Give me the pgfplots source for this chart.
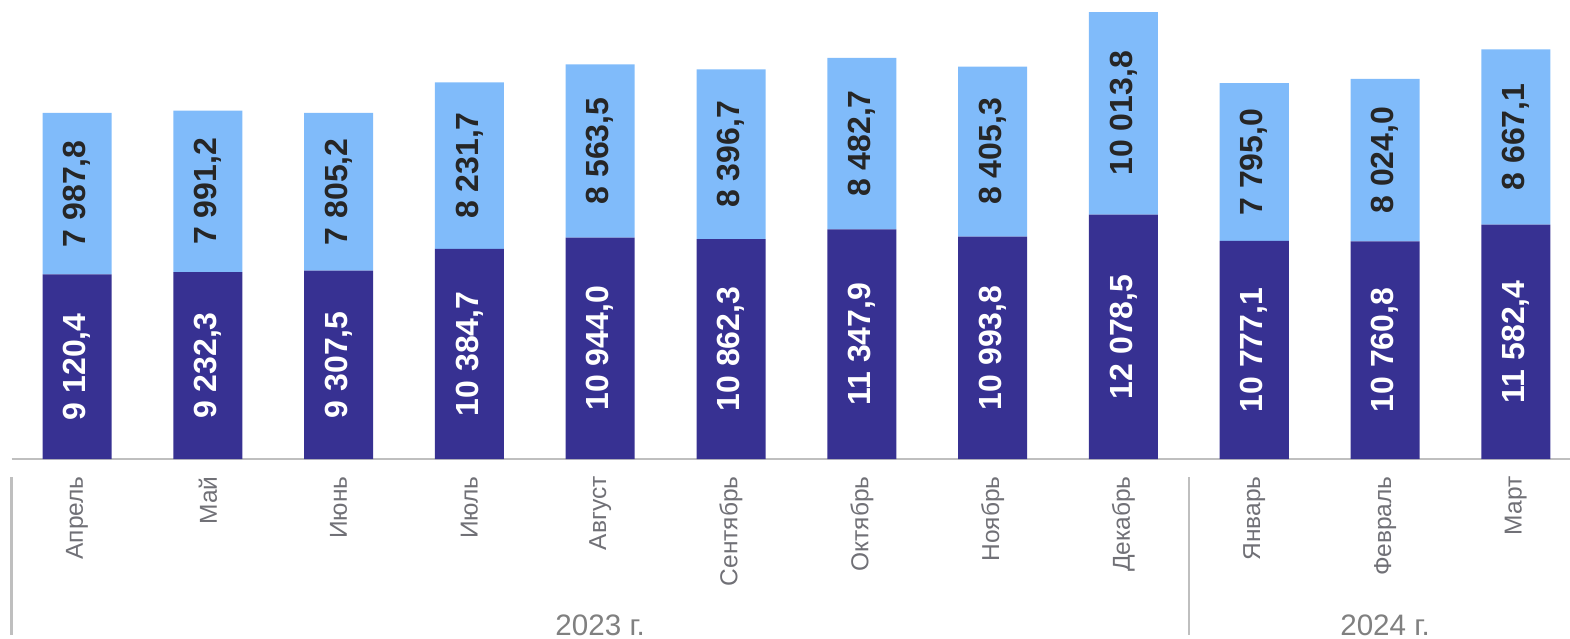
\documentclass[border=0pt]{standalone}
\usepackage{pgfplots}
\pgfplotsset{compat=1.18}
\usepackage{pgfplotstable}
\usepackage{fontspec}
\setmainfont{Liberation Sans}
\definecolor{darkbar}{RGB}{55,49,146}
\definecolor{lightbar}{RGB}{128,187,250}
\definecolor{labelgray}{RGB}{112,112,118}
\definecolor{yeargray}{RGB}{128,128,128}
\definecolor{valtext}{RGB}{38,38,38}
\definecolor{axisgray}{RGB}{191,191,191}
\pgfplotstableread{
x d l
0 9120.4 7987.8
1 9232.3 7991.2
2 9307.5 7805.2
3 10384.7 8231.7
4 10944.0 8563.5
5 10862.3 8396.7
6 11347.9 8482.7
7 10993.8 8405.3
8 12078.5 10013.8
9 10777.1 7795.0
10 10760.8 8024.0
11 11582.4 8667.1
}\data
\begin{document}
\begin{tikzpicture}
\pgfplotsset{common/.style={scale only axis, width=779.2pt, height=229.5pt,
  xmin=-0.5, xmax=11.414, ymin=0, ymax=22686, clip=false, enlargelimits=false}}
\begin{axis}[common, ybar stacked, bar width=34.5pt,
  axis x line*=bottom, axis y line=none,
  axis line style={draw=axisgray, line width=1pt},
  xtick={0,...,11},
  xticklabels={Апрель,Май,Июнь,Июль,Август,Сентябрь,Октябрь,Ноябрь,Декабрь,Январь,Февраль,Март},
  major tick length=0pt, ytick=\empty,
  xticklabel style={rotate=90, anchor=east, inner sep=0pt,
    font=\fontsize{12.25}{14}\selectfont, text=labelgray},
  xticklabel shift=8.5pt]
\addplot[fill=darkbar, draw=none] table[x=x,y=d]{\data};
\addplot[fill=lightbar, draw=none] table[x=x,y=l]{\data};
\draw[axisgray, line width=1.2pt] ([yshift=-9pt]axis cs:-0.5,0) -- ([yshift=-88pt]axis cs:-0.5,0);
\draw[axisgray, line width=1.2pt] ([yshift=-9pt]axis cs:8.5,0) -- ([yshift=-88pt]axis cs:8.5,0);
\node[anchor=base, font=\fontsize{14.8}{17}\selectfont, text=yeargray] at ([yshift=-88pt]axis cs:4,0) {2023 г.};
\node[anchor=base, font=\fontsize{14.8}{17}\selectfont, text=yeargray] at ([yshift=-88pt]axis cs:10,0) {2024 г.};
\end{axis}
\begin{axis}[common, hide axis,
  nodes near coords, point meta=explicit,
  every node near coord/.append style={rotate=90, anchor=center,
    font=\fontsize{16}{19}\selectfont\bfseries},
  /pgf/number format/.cd, fixed, fixed zerofill, precision=1, use comma,
  1000 sep={\ }, assume math mode=true]
\addplot[draw=none, no markers, every node near coord/.append style={text=white}]
  table[x=x, y expr=\thisrow{d}/2, meta=d]{\data};
\addplot[draw=none, no markers, every node near coord/.append style={text=valtext}]
  table[x=x, y expr=\thisrow{d}+\thisrow{l}/2, meta=l]{\data};
\end{axis}
\pgfresetboundingbox
\path[use as bounding box] (-5.8pt,-89.5pt) rectangle (779.2pt,229.5pt);
\end{tikzpicture}
\end{document}
